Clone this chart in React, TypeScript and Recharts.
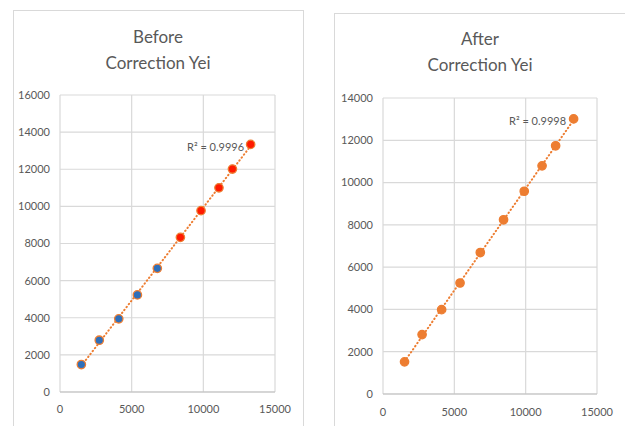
import { ScatterChart, Scatter, XAxis, YAxis, CartesianGrid, ReferenceLine } from 'recharts'

// before correction: first five points blue, last five red
const beforeBlueX = [1490, 2740, 4100, 5400, 6790]
const beforeBlueY = [1480, 2790, 3940, 5230, 6660]
const beforeRedX = [8400, 9840, 11090, 12030, 13300]
const beforeRedY = [8330, 9770, 11000, 12010, 13340]

// after correction
const afterX = [1510, 2740, 4110, 5400, 6820, 8450, 9900, 11150, 12100, 13360]
const afterY = [1520, 2810, 3990, 5250, 6690, 8240, 9590, 10790, 11740, 13010]

const xTicks = [0, 5000, 10000, 15000]
const beforeYTicks = [0, 2000, 4000, 6000, 8000, 10000, 12000, 14000, 16000]
const afterYTicks = [0, 2000, 4000, 6000, 8000, 10000, 12000, 14000]

const ORANGE = '#ed7d31'
const GRID = '#d9d9d9'
const TEXT = '#595959'
const FONT = 'Lato, "Open Sans", sans-serif'

const zip = (xs: number[], ys: number[]) => xs.map((x, i) => ({ x, y: ys[i] }))

// Excel-style linear trendline over the data range
function trend(pts: { x: number; y: number }[]) {
  const n = pts.length
  const mx = pts.reduce((s, p) => s + p.x, 0) / n
  const my = pts.reduce((s, p) => s + p.y, 0) / n
  let sxy = 0
  let sxx = 0
  pts.forEach((p) => {
    sxy += (p.x - mx) * (p.y - my)
    sxx += (p.x - mx) * (p.x - mx)
  })
  const b = sxy / sxx
  const a = my - b * mx
  const x0 = Math.min(...pts.map((p) => p.x))
  const x1 = Math.max(...pts.map((p) => p.x))
  return [
    { x: x0, y: a + b * x0 },
    { x: x1, y: a + b * x1 },
  ]
}

const dot = (fill: string, stroke: string) => (props: any) => (
  <circle cx={props.cx} cy={props.cy} r={4.2} fill={fill} stroke={stroke} strokeWidth={1.3} />
)

const tickStyle = { fontSize: 11, fill: TEXT, fontFamily: FONT }

function Title({ lines, cx, top }: { lines: string[]; cx: number; top: number }) {
  return (
    <div
      style={{
        position: 'absolute',
        left: cx - 100,
        top,
        width: 200,
        textAlign: 'center',
        color: TEXT,
        fontFamily: FONT,
        fontSize: 17,
        lineHeight: '26px',
      }}
    >
      {lines.map((l) => (
        <div key={l}>{l}</div>
      ))}
    </div>
  )
}

function RLabel({ left, top, value }: { left: number; top: number; value: string }) {
  return (
    <div
      style={{
        position: 'absolute',
        left,
        top,
        color: TEXT,
        fontFamily: FONT,
        fontSize: 11,
        lineHeight: '14px',
        whiteSpace: 'nowrap',
      }}
    >
      R² = {value}
    </div>
  )
}

export default function App() {
  const blue = zip(beforeBlueX, beforeBlueY)
  const red = zip(beforeRedX, beforeRedY)
  const before = [...blue, ...red]
  const after = zip(afterX, afterY)

  return (
    <div style={{ position: 'absolute', left: 0, top: 0, width: 625, height: 426, overflow: 'hidden', background: '#fff' }}>
      {/* panel frames */}
      <div style={{ position: 'absolute', left: 13, top: 10, width: 289, height: 440, border: `1px solid ${GRID}` }} />
      <div style={{ position: 'absolute', left: 334, top: 13, width: 291, height: 440, border: `1px solid ${GRID}` }} />

      <Title lines={['Before', 'Correction Yei']} cx={158} top={24} />
      <Title lines={['After', 'Correction Yei']} cx={480} top={26} />

      <div style={{ position: 'absolute', left: 0, top: 0 }}>
        <ScatterChart width={300} height={426} margin={{ top: 95, right: 25, bottom: 9, left: 10 }}>
          <CartesianGrid stroke={GRID} strokeWidth={1.2} />
          <XAxis
            type="number"
            dataKey="x"
            domain={[0, 15000]}
            ticks={xTicks}
            stroke="#bfbfbf"
            tickLine={false}
            tickSize={4}
            tickMargin={9}
            height={25}
            tick={tickStyle}
          />
          <YAxis
            type="number"
            dataKey="y"
            domain={[0, 16000]}
            ticks={beforeYTicks}
            axisLine={false}
            tickLine={false}
            tickSize={4}
            tickMargin={6}
            width={50}
            tick={tickStyle}
          />
          <ReferenceLine
            segment={trend(before)}
            stroke={ORANGE}
            strokeWidth={2}
            strokeDasharray="0.5 3.2"
            strokeLinecap="round"
          />
          <Scatter data={blue} shape={dot('#2e6fba', ORANGE)} isAnimationActive={false} />
          <Scatter data={red} shape={dot('#ff1a00', ORANGE)} isAnimationActive={false} />
        </ScatterChart>
      </div>

      <div style={{ position: 'absolute', left: 310, top: 0 }}>
        <ScatterChart width={315} height={426} margin={{ top: 98, right: 28, bottom: 8, left: 23 }}>
          <CartesianGrid stroke={GRID} strokeWidth={1.2} />
          <XAxis
            type="number"
            dataKey="x"
            domain={[0, 15000]}
            ticks={xTicks}
            stroke="#bfbfbf"
            tickLine={false}
            tickSize={4}
            tickMargin={10}
            height={24}
            tick={tickStyle}
          />
          <YAxis
            type="number"
            dataKey="y"
            domain={[0, 14000]}
            ticks={afterYTicks}
            axisLine={false}
            tickLine={false}
            tickSize={4}
            tickMargin={6}
            width={50}
            tick={tickStyle}
          />
          <ReferenceLine
            segment={trend(after)}
            stroke={ORANGE}
            strokeWidth={2}
            strokeDasharray="0.5 3.2"
            strokeLinecap="round"
          />
          <Scatter data={after} shape={dot(ORANGE, ORANGE)} isAnimationActive={false} />
        </ScatterChart>
      </div>

      <RLabel left={187} top={140} value="0.9996" />
      <RLabel left={509} top={114} value="0.9998" />
    </div>
  )
}
